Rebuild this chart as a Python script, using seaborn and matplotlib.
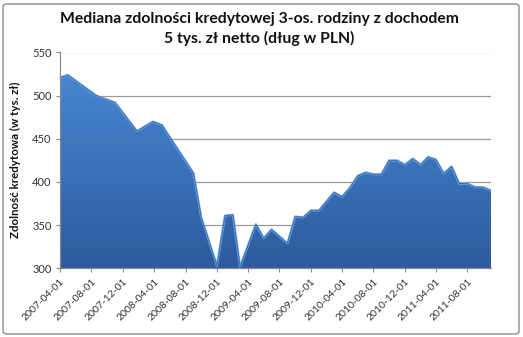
import numpy as np
import pandas as pd
import matplotlib
matplotlib.use("Agg")
import matplotlib.pyplot as plt
import matplotlib.dates as mdates
from matplotlib.patches import FancyBboxPatch
from matplotlib.colors import LinearSegmentedColormap
import seaborn as sns

dates = ['2007-04-01', '2007-05-01', '2007-08-20', '2007-11-01', '2008-01-25',
         '2008-03-28', '2008-05-01', '2008-09-01', '2008-10-01', '2008-12-01',
         '2009-01-01', '2009-02-01', '2009-03-01', '2009-05-01', '2009-06-01',
         '2009-07-01', '2009-09-01', '2009-10-01', '2009-11-01', '2009-12-01',
         '2010-01-01', '2010-03-01', '2010-04-01', '2010-05-01', '2010-06-01',
         '2010-07-01', '2010-08-01', '2010-09-01', '2010-10-01', '2010-11-01',
         '2010-12-01', '2011-01-01', '2011-02-01', '2011-03-01', '2011-04-01',
         '2011-05-01', '2011-06-01', '2011-07-01', '2011-08-01', '2011-09-01',
         '2011-10-01', '2011-11-01']
values = [521, 524, 500, 492, 459,
          470, 466, 410, 359, 303,
          361, 362, 302, 351, 335,
          345, 329, 360, 359, 367,
          367, 388, 383, 393, 407,
          411, 409, 409, 425, 425,
          420, 427, 420, 429, 426,
          410, 418, 398, 398, 394,
          394, 390]
title = "Mediana zdolności kredytowej 3-os. rodziny z dochodem\n5 tys. zł netto (dług w PLN)"
ylabel = "Zdolność kredytowa (w tys. zł)"
yticks = [300, 350, 400, 450, 500, 550]

df = pd.DataFrame({"date": pd.to_datetime(dates), "value": values})

sns.set_theme(style="white")
plt.rcParams['font.family'] = ['Lato', 'DejaVu Sans']

W, H = 523, 337
fig = plt.figure(figsize=(W / 100, H / 100), dpi=100)
fig.patch.set_facecolor('white')
ax = fig.add_axes([60 / W, 1 - 268.3 / H, (491 - 60) / W, (268.3 - 52.5) / H])

# outer border
fig.patches.append(FancyBboxPatch((3 / W, 3 / H), (W - 7) / W, (H - 7) / H,
                                  boxstyle="round,pad=0,rounding_size=0.008",
                                  transform=fig.transFigure, fill=False,
                                  edgecolor='#8c8c8c', linewidth=1.0))

for y in yticks[1:]:
    ax.axhline(y, color='#999999', linewidth=0.9, zorder=0)

x = mdates.date2num(df["date"])
poly = ax.fill_between(df["date"], 300, df["value"], color='none', linewidth=0)
cmap = LinearSegmentedColormap.from_list("g", ['#2c5c9c', '#3a71b9', '#4a86d2'])
grad = np.linspace(0, 1, 256).reshape(-1, 1)
img = ax.imshow(grad, extent=[x.min(), x.max(), 300, 530], origin='lower',
                aspect='auto', cmap=cmap, zorder=1)
path = poly.get_paths()[0]
img.set_clip_path(path, transform=ax.transData)

sns.lineplot(data=df, x="date", y="value", ax=ax, color='#6ea6ea',
             linewidth=1.6, zorder=2)
sns.lineplot(data=df, x="date", y="value", ax=ax, color='#2f5f9e',
             linewidth=0.5, zorder=2)

ax.set_xlim(x.min(), x.max())
ax.set_ylim(300, 550)
ax.set_yticks(yticks)
ax.set_yticklabels([str(v) for v in yticks], fontsize=8, color='#333333')
ax.xaxis.set_major_locator(mdates.MonthLocator(bymonth=[4, 8, 12]))
ax.xaxis.set_major_formatter(mdates.DateFormatter('%Y-%m-%d'))
for lab in ax.get_xticklabels():
    lab.set_rotation(45)
    lab.set_ha('right')
    lab.set_rotation_mode('anchor')
    lab.set_fontsize(7.5)
    lab.set_color('#333333')
ax.tick_params(axis='both', which='major', length=3, width=0.8,
               color='#8a8a8a', direction='out', bottom=True, left=True, pad=3)
ax.set_xlabel("")
ax.set_ylabel("")
for s in ['top', 'right']:
    ax.spines[s].set_visible(False)
for s in ['left', 'bottom']:
    ax.spines[s].set_color('#8a8a8a')
    ax.spines[s].set_linewidth(0.9)
ax.set_facecolor('white')

fig.text(259 / W, 1 - 29 / H, title, ha='center', va='center', fontsize=11.3,
         fontweight='bold', linespacing=1.35, color='#111111')
fig.text(15 / W, 1 - 160 / H, ylabel, rotation=90, ha='center', va='center',
         fontsize=8.3, fontweight='bold', color='#111111')

fig.savefig("out.png", dpi=100)
